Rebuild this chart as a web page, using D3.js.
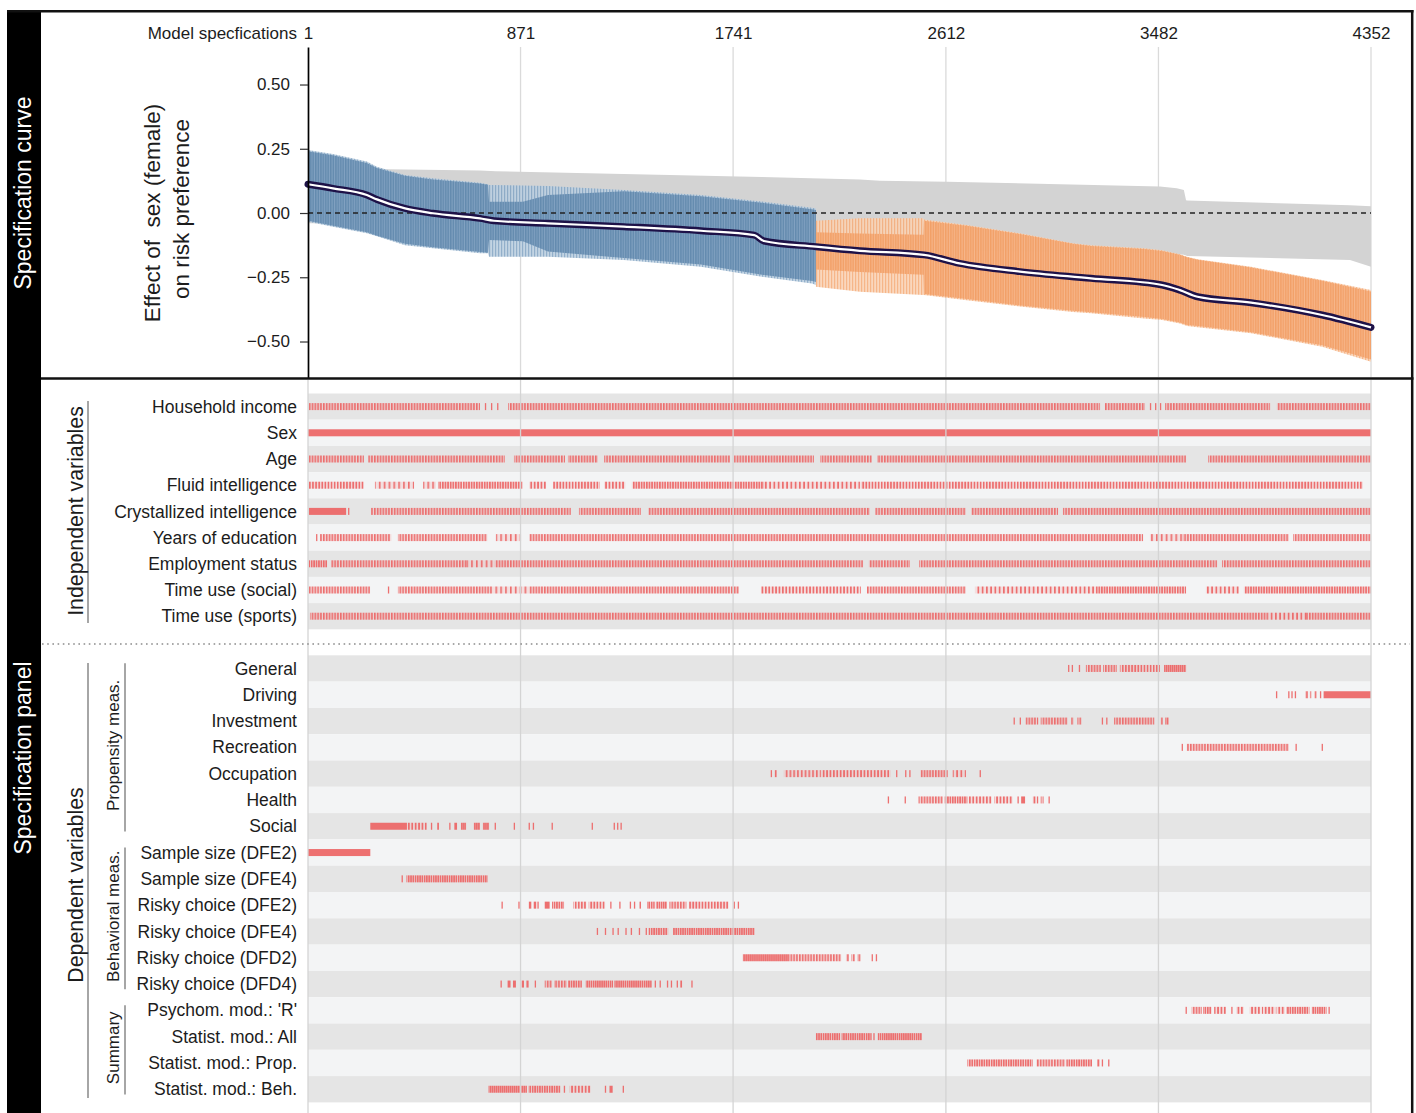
<!DOCTYPE html>
<html>
<head>
<meta charset="utf-8">
<script src="https://cdn.jsdelivr.net/npm/d3@7"></script>
<style>
  body { margin: 0; background: #fff; }
  svg text { font-family: "Liberation Sans", Arial, sans-serif; fill: #1c1c1c; }
</style>
</head>
<body>
<svg id="chart" width="1416" height="1113"></svg>
<script>
"use strict";

// ---------- data ----------
var specTicks = [1, 871, 1741, 2612, 3482, 4352];
var yTicks = [0.5, 0.25, 0, -0.25, -0.5];

// median estimate, sorted
var estSpec = [1, 103, 242, 283, 398, 512, 705, 762, 983, 1294, 1609, 1828, 1867, 2080, 2260, 2522, 2668, 2915, 3206, 3497, 3570, 3642, 3861, 4152, 4352];
var estVal  = [0.112, 0.096, 0.070, 0.053, 0.018, -0.001, -0.021, -0.030, -0.040, -0.053, -0.069, -0.086, -0.109, -0.131, -0.147, -0.163, -0.196, -0.228, -0.254, -0.280, -0.300, -0.326, -0.349, -0.397, -0.445];

// null distribution band (grey)
var nullSpec = [1, 324, 705, 770, 771, 1859, 2260, 2342, 2616, 3488, 3557, 3586, 3595, 3599, 4266, 4352];
var nullUp   = [0.20, 0.17, 0.165, 0.163, 0.163, 0.14, 0.13, 0.126, 0.122, 0.103, 0.096, 0.09, 0.05, 0.049, 0.03, 0.026];
var nullLo   = [-0.04, -0.042, -0.045, -0.045, -0.098, -0.125, -0.137, -0.14, -0.145, -0.158, -0.16, -0.162, -0.165, -0.167, -0.183, -0.209];

// CI, credible interval includes zero (blue)
var blueSpec   = [1, 103, 242, 283, 398, 512, 705, 738, 742, 880, 983, 1294, 1609, 1859, 2064, 2080];
var blueUp     = [0.245, 0.23, 0.20, 0.18, 0.148, 0.135, 0.118, 0.112, 0.109, 0.107, 0.105, 0.09, 0.07, 0.045, 0.02, 0.018];
var blueLo     = [-0.034, -0.053, -0.079, -0.09, -0.125, -0.137, -0.157, -0.157, -0.17, -0.17, -0.17, -0.183, -0.209, -0.248, -0.274, -0.28];
var blueDenseUp = [0.24, 0.225, 0.195, 0.175, 0.145, 0.13, 0.115, 0.11, 0.044, 0.044, 0.07, 0.085, 0.065, 0.04, 0.015, 0.012];
var blueDenseLo = [-0.03, -0.05, -0.075, -0.088, -0.12, -0.133, -0.152, -0.155, -0.105, -0.11, -0.15, -0.175, -0.2, -0.24, -0.265, -0.268];

// CI below zero (orange)
var orangeSpec   = [2080, 2260, 2520, 2522, 2697, 2915, 3132, 3206, 3423, 3497, 3570, 3599, 3642, 3861, 4152, 4352];
var orangeUp     = [-0.03, -0.02, -0.02, -0.025, -0.047, -0.079, -0.118, -0.125, -0.137, -0.145, -0.16, -0.17, -0.18, -0.209, -0.261, -0.30];
var orangeLo     = [-0.287, -0.306, -0.319, -0.319, -0.339, -0.364, -0.385, -0.39, -0.41, -0.416, -0.43, -0.44, -0.445, -0.468, -0.52, -0.579];
var orangeDenseUp = [-0.075, -0.08, -0.085, -0.03, -0.05, -0.082, -0.12, -0.128, -0.14, -0.148, -0.162, -0.172, -0.182, -0.212, -0.264, -0.305];
var orangeDenseLo = [-0.22, -0.23, -0.24, -0.315, -0.335, -0.36, -0.38, -0.386, -0.405, -0.412, -0.426, -0.436, -0.44, -0.464, -0.515, -0.57];

// specification panel: runs of specs [from, to, fill share]
var indepLabels = ["Household income", "Sex", "Age", "Fluid intelligence", "Crystallized intelligence",
  "Years of education", "Employment status", "Time use (social)", "Time use (sports)"];
var indepRuns = [
  [[5,705,.6],[725,728,1],[750,753,1],[775,778,1],[820,3243,.6],[3263,3427,.6],[3447,3450,1],[3468,3471,1],[3488,3491,1],[3509,3939,.6],[3967,4352,.6]],
  [[1,4352,1]],
  [[5,230,.6],[247,807,.6],[844,1053,.6],[1065,1188,.6],[1213,1728,.6],[1745,2072,.6],[2097,2309,.6],[2330,3595,.6],[3685,4352,.6]],
  [[5,230,.55],[275,435,.35],[472,525,.35],[533,881,.65],[906,975,.5],[1004,1196,.55],[1213,1299,.5],[1327,1868,.65],[1868,2260,.4],[2264,4319,.55]],
  [[5,157,1],[165,167,1],[259,1077,.6],[1110,1364,.6],[1393,2301,.6],[2322,2694,.6],[2715,3071,.6],[3091,4352,.6]],
  [[34,37,1],[50,341,.6],[369,734,.6],[770,873,.35],[906,3419,.6],[3447,3582,.35],[3582,4016,.6],[4033,4352,.6]],
  [[5,79,.7],[95,648,.6],[648,766,.35],[766,2273,.6],[2297,2465,.6],[2502,3722,.6],[3742,4352,.6]],
  [[5,255,.6],[328,331,1],[369,758,.6],[758,906,.35],[906,1765,.6],[1855,2264,.5],[2289,2694,.6],[2731,3226,.4],[3226,3595,.65],[3676,3812,.4],[3832,4352,.65]],
  [[9,3934,.6],[3934,4086,.4],[4086,4352,.6]]
];

var depLabels = ["General", "Driving", "Investment", "Recreation", "Occupation", "Health", "Social",
  "Sample size (DFE2)", "Sample size (DFE4)", "Risky choice (DFE2)", "Risky choice (DFE4)",
  "Risky choice (DFD2)", "Risky choice (DFD4)", "Psychom. mod.: 'R'", "Statist. mod.: All",
  "Statist. mod.: Prop.", "Statist. mod.: Beh."];
var depRuns = [
  [[3112,3114,1],[3127,3129,1],[3156,3161,1],[3185,3247,.6],[3255,3312,.6],[3324,3488,.55],[3505,3595,.85]],
  [[3963,3965,1],[4013,4018,1],[4026,4030,1],[4040,4044,1],[4082,4095,.6],[4102,4110,.6],[4120,4130,.6],[4143,4145,1],[4158,4352,1]],
  [[2889,2891,1],[2914,2917,1],[2938,2990,.6],[3000,3110,.6],[3125,3135,.6],[3150,3167,.6],[3250,3253,1],[3268,3273,1],[3300,3465,.6],[3492,3500,.8],[3510,3525,.8]],
  [[3577,3579,1],[3598,4016,.6],[4043,4046,1],[4150,4152,1]],
  [[1895,1900,1],[1912,1919,1],[1949,2100,.45],[2100,2385,.5],[2408,2412,1],[2445,2450,1],[2462,2466,1],[2508,2620,.6],[2640,2694,.4],[2750,2753,1]],
  [[2374,2377,1],[2443,2446,1],[2500,2600,.6],[2605,2700,.7],[2705,2800,.5],[2810,2885,.5],[2905,2910,1],[2920,2936,1],[2967,2990,.5],[3000,3012,.6],[3032,3035,1]],
  [[256,406,1],[406,487,.5],[504,508,1],[530,537,1],[579,584,1],[600,611,1],[627,648,.9],[680,705,.9],[717,742,.9],[765,770,1],[843,846,1],[904,907,1],[921,926,1],[998,1001,1],[1162,1165,1],[1252,1255,1],[1266,1269,1],[1280,1284,1]],
  [[1,256,1]],
  [[384,387,1],[404,736,.75]],
  [[793,796,1],[862,865,1],[905,915,1],[925,935,1],[940,945,1],[970,990,1],[1000,1049,.7],[1086,1140,.55],[1150,1217,.55],[1238,1241,1],[1275,1278,1],[1318,1322,1],[1335,1340,1],[1358,1364,1],[1389,1420,.7],[1425,1470,.8],[1480,1550,.6],[1560,1722,.55],[1743,1747,1],[1760,1765,1]],
  [[1183,1186,1],[1216,1219,1],[1247,1250,1],[1268,1271,1],[1300,1303,1],[1322,1325,1],[1355,1358,1],[1383,1388,1],[1395,1475,.7],[1495,1830,.75]],
  [[1781,1970,.9],[1970,2183,.6],[2203,2215,.6],[2225,2240,.6],[2250,2264,.6],[2308,2312,1],[2325,2330,1]],
  [[789,792,1],[818,830,1],[840,852,1],[876,885,1],[895,904,1],[929,932,1],[970,1000,.6],[1008,1060,.6],[1065,1122,.7],[1138,1250,.8],[1255,1408,.8],[1420,1424,1],[1440,1445,1],[1470,1475,1],[1486,1490,1],[1510,1515,1],[1525,1532,1],[1570,1573,1]],
  [[3593,3596,1],[3618,3660,.6],[3665,3700,.7],[3710,3758,.5],[3780,3783,1],[3800,3832,.5],[3856,3900,.5],[3905,3960,.5],[3965,4000,.5],[4005,4100,.7],[4110,4170,.75],[4178,4181,1]],
  [[2080,2180,.75],[2185,2308,.75],[2315,2318,1],[2333,2514,.8]],
  [[2700,2967,.7],[2981,3100,.6],[3105,3210,.7],[3232,3240,1],[3250,3255,1],[3276,3280,1]],
  [[740,897,.85],[904,1035,.7],[1048,1051,1],[1072,1159,.5],[1216,1220,1],[1235,1248,1],[1289,1292,1]]
];

var groupNames = ["Propensity meas.", "Behavioral meas.", "Summary"];
var groupFirst = [0, 7, 13];
var groupLast  = [6, 12, 16];

// ---------- drawing ----------
var W = 1416, H = 1113;
var svg = d3.select("#chart");
var FONT = '"Liberation Sans", Arial, sans-serif';
var red = "#ec6868";

var x = d3.scaleLinear().domain([1, 4352]).range([308, 1371]);
var y = d3.scaleLinear().domain([-0.642, 0.646]).range([378, 47]);

var defs = svg.append("defs");

// stripe patterns for the tick runs
var shares = [];
indepRuns.concat(depRuns).forEach(function (row) {
  row.forEach(function (r) { if (r[2] < 1 && shares.indexOf(r[2]) < 0) shares.push(r[2]); });
});
shares.forEach(function (s) {
  var per = 1.7 / s;
  var p = defs.append("pattern")
      .attr("id", "stripe" + Math.round(s * 100))
      .attr("patternUnits", "userSpaceOnUse")
      .attr("width", per).attr("height", 20);
  p.append("rect").attr("width", 1.7).attr("height", 20).attr("fill", red);
  p.append("rect").attr("x", 1.7).attr("width", per - 1.7).attr("height", 20).attr("fill", "#f4b3b3").attr("opacity", 0.35);
});

function streak(id, dark, light, per, w) {
  var p = defs.append("pattern").attr("id", id)
      .attr("patternUnits", "userSpaceOnUse").attr("width", per).attr("height", 10);
  p.append("rect").attr("width", per).attr("height", 10).attr("fill", light);
  p.append("rect").attr("width", w).attr("height", 10).attr("fill", dark);
}
streak("blueLight", "#86a6c4", "#bccfe0", 3, 1.2);
streak("blueDense", "#5f87ac", "#7d9ebf", 2.5, 1.6);
streak("orangeLight", "#f5ae7c", "#f9d3b6", 3, 1.2);
streak("orangeDense", "#f29d63", "#f6b386", 2.5, 1.6);

svg.append("rect").attr("width", W).attr("height", H).attr("fill", "#fff");

// ---- top panel ----
var curveG = svg.append("g");

curveG.selectAll(".grid")
  .data(specTicks.slice(1))
  .enter().append("line")
    .attr("x1", function (d) { return x(d); }).attr("x2", function (d) { return x(d); })
    .attr("y1", 47).attr("y2", 377)
    .attr("stroke", "#dadada").attr("stroke-width", 1.3);

function band(spec, up, lo) {
  return d3.zip(spec, up, lo);
}
var area = d3.area()
    .x(function (d) { return x(d[0]); })
    .y0(function (d) { return y(d[2]); })
    .y1(function (d) { return y(d[1]); });

curveG.append("path").attr("d", area(band(nullSpec, nullUp, nullLo))).attr("fill", "#d3d3d3");
curveG.append("path").attr("d", area(band(blueSpec, blueUp, blueLo))).attr("fill", "url(#blueLight)").attr("opacity", 0.9);
curveG.append("path").attr("d", area(band(blueSpec, blueDenseUp, blueDenseLo))).attr("fill", "url(#blueDense)").attr("opacity", 0.9);
curveG.append("path").attr("d", area(band(orangeSpec, orangeUp, orangeLo))).attr("fill", "url(#orangeLight)").attr("opacity", 0.9);
curveG.append("path").attr("d", area(band(orangeSpec, orangeDenseUp, orangeDenseLo))).attr("fill", "url(#orangeDense)").attr("opacity", 0.88);

curveG.append("line")
    .attr("x1", x(1)).attr("x2", x(4352))
    .attr("y1", y(0)).attr("y2", y(0))
    .attr("stroke", "#222").attr("stroke-width", 1.3)
    .attr("stroke-dasharray", "5,4");

var line = d3.line()
    .curve(d3.curveMonotoneX)
    .x(function (d) { return x(d[0]); })
    .y(function (d) { return y(d[1]); });
var est = d3.zip(estSpec, estVal);
curveG.append("path").attr("d", line(est)).attr("fill", "none")
    .attr("stroke", "#1e1248").attr("stroke-width", 7).attr("stroke-linecap", "round");
curveG.append("path").attr("d", line(est)).attr("fill", "none")
    .attr("stroke", "#fff").attr("stroke-width", 2.2);

// y axis
var yAxis = d3.axisLeft(y)
    .tickValues(yTicks)
    .tickFormat(d3.format(".2f"))
    .tickSize(8).tickPadding(10).tickSizeOuter(0);
var gy = curveG.append("g").attr("transform", "translate(308,0)").call(yAxis)
    .attr("font-family", FONT).attr("font-size", 17);
gy.select(".domain").attr("stroke", "#000").attr("stroke-width", 1.7);
gy.selectAll(".tick line").attr("stroke", "#333").attr("stroke-width", 1.2);
gy.selectAll(".tick text").attr("fill", "#222");

// x labels on top
var gx = curveG.append("g").attr("transform", "translate(0,39)")
    .call(d3.axisTop(x).tickValues(specTicks).tickFormat(d3.format("d")).tickSize(0).tickPadding(0))
    .attr("font-family", FONT).attr("font-size", 17);
gx.select(".domain").remove();
gx.selectAll(".tick text").attr("fill", "#222");
curveG.append("text").attr("x", 297).attr("y", 39).attr("text-anchor", "end")
    .attr("font-size", 17).text("Model specfications");

// y title
curveG.append("text")
    .attr("transform", "translate(152,213) rotate(-90)")
    .attr("text-anchor", "middle").attr("dy", "0.35em")
    .attr("font-size", 22.5).style("white-space", "pre")
    .text("Effect of  sex (female)");
curveG.append("text")
    .attr("transform", "translate(181,209) rotate(-90)")
    .attr("text-anchor", "middle").attr("dy", "0.35em")
    .attr("font-size", 22.5)
    .text("on risk preference");

// ---- specification panel ----
var rowsI = d3.scaleBand().domain(indepLabels).range([393.5, 629.3]);
var rowsD = d3.scaleBand().domain(depLabels).range([655.3, 1102.4]);
var tickH = 7;

function drawRows(labels, runs, scale) {
  var g = svg.append("g");
  g.selectAll(".bg").data(labels).enter().append("rect")
      .attr("x", x(1)).attr("width", x(4352) - x(1))
      .attr("y", function (d) { return scale(d); })
      .attr("height", scale.bandwidth())
      .attr("fill", function (d, i) { return i % 2 === 0 ? "#e5e5e5" : "#f3f4f5"; });

  labels.forEach(function (lab, i) {
    var cy = scale(lab) + scale.bandwidth() / 2;
    g.selectAll(".run" + i).data(runs[i]).enter().append("rect")
        .attr("x", function (r) { return x(r[0]); })
        .attr("width", function (r) { return Math.max(x(r[1]) - x(r[0]), 1.3); })
        .attr("y", cy - tickH / 2).attr("height", tickH)
        .attr("fill", function (r) {
          return r[2] >= 1 ? red : "url(#stripe" + Math.round(r[2] * 100) + ")";
        })
        .attr("opacity", 0.95);
  });

  g.selectAll(".lab").data(labels).enter().append("text")
      .attr("x", 297)
      .attr("y", function (d) { return scale(d) + scale.bandwidth() / 2; })
      .attr("dy", "0.35em").attr("text-anchor", "end")
      .attr("font-size", 17.5)
      .text(function (d) { return d; });
}
drawRows(indepLabels, indepRuns, rowsI);
drawRows(depLabels, depRuns, rowsD);

// panel grid lines over rows
svg.selectAll(".pgrid").data(specTicks).enter().append("line")
    .attr("x1", function (d) { return x(d); }).attr("x2", function (d) { return x(d); })
    .attr("y1", 380).attr("y2", H)
    .attr("stroke", "#d4d4d4").attr("stroke-width", 1.3);

// dotted separator
svg.append("line").attr("x1", 42).attr("x2", 1410).attr("y1", 644).attr("y2", 644)
    .attr("stroke", "#8c8c8c").attr("stroke-width", 1.6).attr("stroke-dasharray", "1.6,3.6");

// group brackets
function bracket(x0, y0, y1, label, size, cy) {
  svg.append("line").attr("x1", x0).attr("x2", x0).attr("y1", y0).attr("y2", y1)
      .attr("stroke", "#808080").attr("stroke-width", 1.4);
  svg.append("text")
      .attr("transform", "translate(" + (x0 - 12) + "," + cy + ") rotate(-90)")
      .attr("text-anchor", "middle").attr("dy", "0.35em")
      .attr("font-size", size).text(label);
}
bracket(88, 401, 623, "Independent variables", 21.3, 511);
bracket(88, 663, 1098, "Dependent variables", 21.3, 885);
groupNames.forEach(function (n, i) {
  var a = rowsD(depLabels[groupFirst[i]]) + 8;
  var b = rowsD(depLabels[groupLast[i]]) + rowsD.bandwidth() - 8;
  bracket(125, a, b, n, 17, (a + b) / 2 - 2);
});

// ---- frame and side strip ----
svg.append("rect").attr("x", 7).attr("y", 10).attr("width", 34).attr("height", H - 10).attr("fill", "#000");
svg.append("line").attr("x1", 7).attr("x2", 1413.5).attr("y1", 11.2).attr("y2", 11.2)
    .attr("stroke", "#111").attr("stroke-width", 2.5);
svg.append("line").attr("x1", 1412.2).attr("x2", 1412.2).attr("y1", 10).attr("y2", H)
    .attr("stroke", "#111").attr("stroke-width", 2.5);
svg.append("line").attr("x1", 41).attr("x2", 1413.5).attr("y1", 378.5).attr("y2", 378.5)
    .attr("stroke", "#111").attr("stroke-width", 2.5);

svg.append("text").attr("transform", "translate(23,193) rotate(-90)")
    .attr("text-anchor", "middle").attr("dy", "0.35em")
    .attr("font-size", 23).style("fill", "#fff").text("Specification curve");
svg.append("text").attr("transform", "translate(23,758) rotate(-90)")
    .attr("text-anchor", "middle").attr("dy", "0.35em")
    .attr("font-size", 23).style("fill", "#fff").text("Specification panel");
</script>
</body>
</html>
